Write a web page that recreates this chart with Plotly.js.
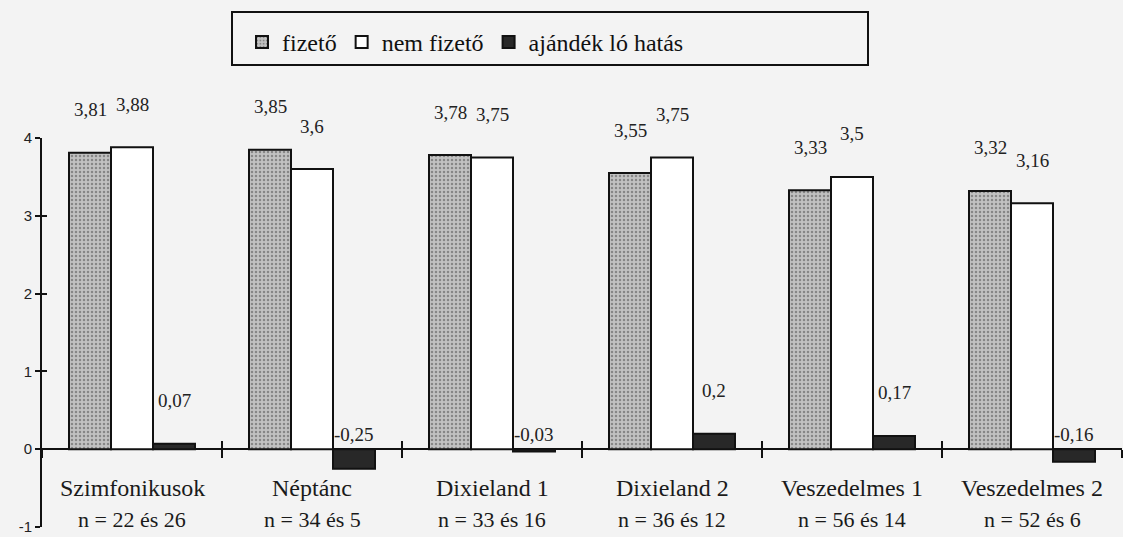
<!DOCTYPE html>
<html><head><meta charset="utf-8">
<script src="https://cdn.plot.ly/plotly-3.0.1.min.js"></script>
<style>
html,body{margin:0;padding:0;background:#f3f3f3}
#chart{width:1123px;height:537px}
#chart .annotation-text, #chart .legendtext { font-family: 'Liberation Serif', serif !important; }
#chart .ytick text { font-family: 'Liberation Sans', sans-serif !important; }
</style>
</head><body><div id="chart"></div>
<script>
// ---- data ----
const categories = ['Szimfonikusok', 'Néptánc', 'Dixieland 1', 'Dixieland 2', 'Veszedelmes 1', 'Veszedelmes 2'];
const sampleSizes = ['n = 22 és 26', 'n = 34 és 5', 'n = 33 és 16', 'n = 36 és 12', 'n = 56 és 14', 'n = 52 és 6'];
const fizeto = [3.81, 3.85, 3.78, 3.55, 3.33, 3.32];
const nemFizeto = [3.88, 3.6, 3.75, 3.75, 3.5, 3.16];
const ajandekLo = [0.07, -0.25, -0.03, 0.2, 0.17, -0.16];
const seriesNames = ['fizető', 'nem fizető', 'ajándék ló hatás'];
const yTickVals = [-1, 0, 1, 2, 3, 4];
const yTickText = ['-1', '0', '1', '2', '3', '4'];

// ---- layout constants ----
const W = 1123, H = 537;
const M = {l: 42, r: 1, t: 138, b: 10};
const BARGAP = 0.3;
const SERIF = 'Liberation Serif';
const SANS = 'Liberation Sans';
const yRange = [-1, 4];
const xRange = [-0.5, categories.length - 0.5];
const zeroPos = (0 - yRange[0]) / (yRange[1] - yRange[0]);
const plotW = W - M.l - M.r, plotH = H - M.t - M.b;
const barPx = plotW / categories.length * (1 - BARGAP) / 3;
const outline = {color: '#111', width: 2};

const allSeries = [fizeto, nemFizeto, ajandekLo];
const styles = [
  {color: '#bdbdbd', line: outline, pattern: {shape: '.', fgcolor: '#878787', bgcolor: '#c2c2c2', size: 4, solidity: 0.3}},
  {color: '#ffffff', line: outline},
  {color: '#282828', line: outline}
];

const traces = allSeries.map((vals, k) => ({
  type: 'bar', name: seriesNames[k], x: categories, y: vals,
  marker: styles[k], hoverinfo: 'skip'
}));
// empty helper trace so the overlay axes (crossing tick marks) are drawn
traces.push({type: 'scatter', mode: 'markers', x: [], y: [], xaxis: 'x2', yaxis: 'y2', showlegend: false, hoverinfo: 'skip'});

const fmt = v => String(v).replace('.', ',');
const annotations = [];
allSeries.forEach((vals, k) => {
  vals.forEach((v, i) => {
    annotations.push({
      xref: 'x', yref: 'y', x: categories[i], y: Math.max(v, 0),
      xshift: (k - 1) * barPx, yshift: v >= 0 ? 43 : 15,
      yanchor: 'middle', xanchor: 'center', showarrow: false,
      text: fmt(v), font: {family: SERIF, size: 19, color: '#222'}
    });
  });
});
categories.forEach((c, i) => {
  annotations.push({xref: 'x', yref: 'y', x: c, y: -0.5, showarrow: false,
    text: c, font: {family: SERIF, size: 24, color: '#1a1a1a'}, yanchor: 'middle'});
  annotations.push({xref: 'x', yref: 'y', x: c, y: -0.9, showarrow: false,
    text: sampleSizes[i], font: {family: SERIF, size: 22, color: '#1a1a1a'}, yanchor: 'middle'});
});

const px2x = p => (p - M.l) / plotW;
const px2y = p => (H - M.b - p) / plotH;

const layout = {
  width: W, height: H, margin: M,
  font: {family: SERIF},
  paper_bgcolor: '#f3f3f3', plot_bgcolor: '#f3f3f3',
  barmode: 'group', bargap: BARGAP, bargroupgap: 0,
  showlegend: true,
  legend: {orientation: 'h', x: px2x(242), xanchor: 'left', y: px2y(20), yanchor: 'top',
    font: {family: SERIF, size: 24, color: '#111'}, bgcolor: 'rgba(0,0,0,0)', borderwidth: 0},
  xaxis: {type: 'category', range: xRange, anchor: 'free', position: zeroPos,
    showticklabels: false, ticks: 'outside', tickson: 'boundaries', ticklen: 8, tickwidth: 2,
    tickcolor: '#111', showline: false, showgrid: false, zeroline: false, fixedrange: true},
  xaxis2: {type: 'linear', overlaying: 'x', range: xRange, anchor: 'free', position: zeroPos,
    tickvals: categories.slice(1).map((_, i) => i + 0.5), ticks: 'inside', ticklen: 8, tickwidth: 2,
    tickcolor: '#111', showticklabels: false, showline: false, showgrid: false, zeroline: false},
  yaxis: {range: yRange, tickvals: yTickVals, ticktext: yTickText, ticks: 'outside', ticklen: 5,
    tickwidth: 2, tickcolor: '#111', showline: true, linecolor: '#111', linewidth: 2,
    showgrid: false, zeroline: true, zerolinecolor: '#111', zerolinewidth: 2,
    tickfont: {family: SANS, size: 15, color: '#222'}},
  yaxis2: {range: yRange, overlaying: 'y', anchor: 'x', side: 'left', tickvals: yTickVals,
    ticks: 'inside', ticklen: 5, tickwidth: 2, tickcolor: '#111', showticklabels: false,
    showline: false, showgrid: false, zeroline: false},
  shapes: [{type: 'rect', xref: 'paper', yref: 'paper', x0: px2x(232), x1: px2x(868),
    y0: px2y(65), y1: px2y(12), line: {color: '#111', width: 2}, fillcolor: 'rgba(0,0,0,0)'}],
  annotations: annotations
};

Plotly.newPlot('chart', traces, layout, {displayModeBar: false});
</script></body></html>
